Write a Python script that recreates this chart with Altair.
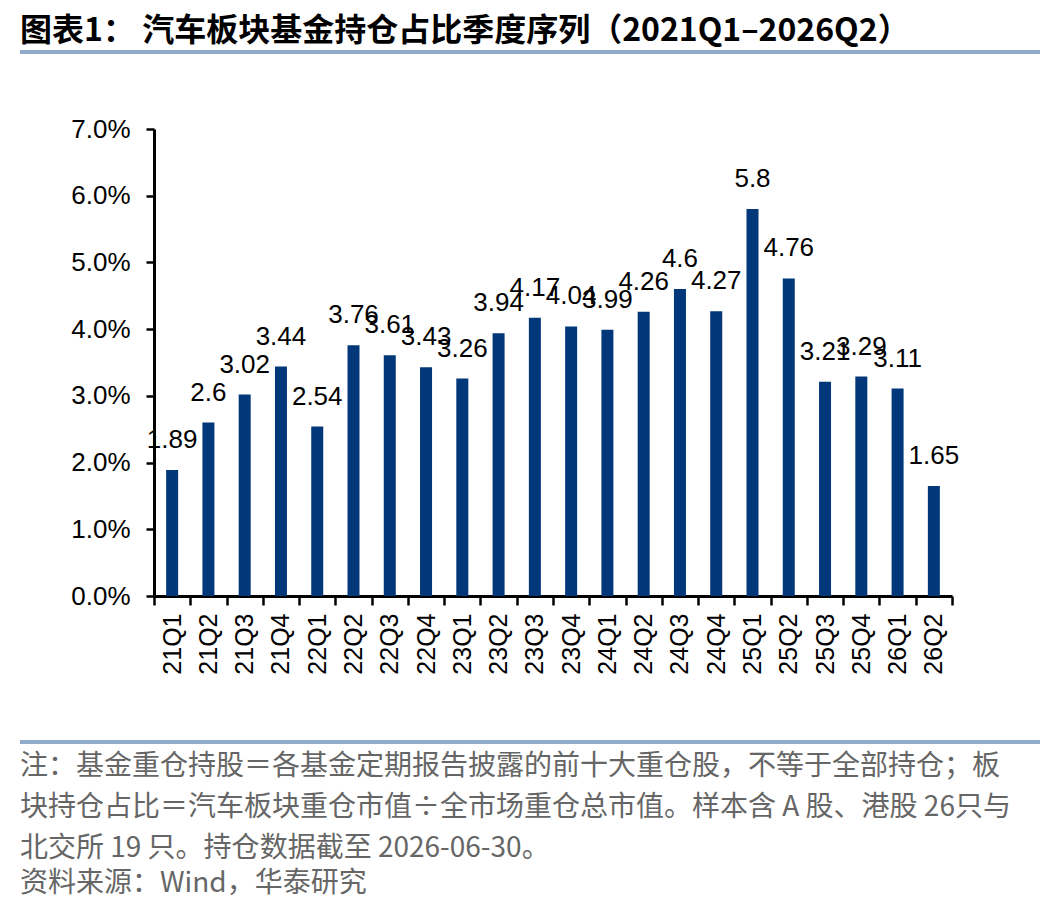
import altair as alt
import pandas as pd

# ---------------- data ----------------
quarters = ["21Q1", "21Q2", "21Q3", "21Q4", "22Q1", "22Q2", "22Q3", "22Q4",
            "23Q1", "23Q2", "23Q3", "23Q4", "24Q1", "24Q2", "24Q3", "24Q4",
            "25Q1", "25Q2", "25Q3", "25Q4", "26Q1", "26Q2"]
shares_pct = [1.89, 2.6, 3.02, 3.44, 2.54, 3.76, 3.61, 3.43,
              3.26, 3.94, 4.17, 4.04, 3.99, 4.26, 4.6, 4.27,
              5.8, 4.76, 3.21, 3.29, 3.11, 1.65]
value_labels = ["1.89", "2.6", "3.02", "3.44", "2.54", "3.76", "3.61", "3.43",
                "3.26", "3.94", "4.17", "4.04", "3.99", "4.26", "4.6", "4.27",
                "5.8", "4.76", "3.21", "3.29", "3.11", "1.65"]
y_ticks = [0.0, 0.01, 0.02, 0.03, 0.04, 0.05, 0.06, 0.07]

title_text = "图表1：  汽车板块基金持仓占比季度序列（2021Q1–2026Q2）"
note_lines = [
    "注：基金重仓持股＝各基金定期报告披露的前十大重仓股，不等于全部持仓；板",
    "块持仓占比＝汽车板块重仓市值÷全市场重仓总市值。样本含 A 股、港股 26只与",
    "北交所 19 只。持仓数据截至 2026-06-30。",
]
source_text = "资料来源：Wind，华泰研究"

df = pd.DataFrame({
    "quarter": quarters,
    "share": [v / 100 for v in shares_pct],
    "label": value_labels,
})

# ---------------- styles ----------------
BAR = "#02377A"
LATIN = "Liberation Sans"
CJK = "Noto Sans CJK SC"
RULE = "#93ABCB"
NOTE = "#666666"

W, H = 798, 467

x_enc = alt.X(
    "quarter:N", sort=quarters,
    scale=alt.Scale(paddingInner=0, paddingOuter=0),
    axis=alt.Axis(title=None, labelAngle=270, tickBand="extent",
                  labelFont=LATIN, labelFontSize=25, labelColor="#000000",
                  labelPadding=8, tickSize=9, tickWidth=2.5, tickColor="#000000",
                  domainColor="#000000", domainWidth=3),
)
y_enc = alt.Y(
    "share:Q",
    scale=alt.Scale(domain=[0, 0.07], nice=False),
    axis=alt.Axis(title=None, values=y_ticks, format=".1%", grid=False,
                  labelFont=LATIN, labelFontSize=26, labelColor="#000000",
                  labelPadding=16, tickSize=8, tickWidth=2.5, tickColor="#000000",
                  domainColor="#000000", domainWidth=3),
)

base = alt.Chart(df)
labels = base.mark_text(dy=-30, baseline="middle", align="center",
                        font=LATIN, fontSize=26, color="#000000").encode(
    x=alt.X("quarter:N", sort=quarters), y="share:Q", text="label:N")
bars = base.mark_bar(size=12, color=BAR).encode(x=x_enc, y=y_enc)

def text_layer(txt, px, py, **kw):
    return alt.Chart(pd.DataFrame({"t": [txt]})).mark_text(
        align="left", baseline="middle", **kw
    ).encode(x=alt.value(px - 154), y=alt.value(py - 129), text="t:N")

title = text_layer(title_text, 20, 31, font=CJK, fontSize=32,
                   fontWeight="bold", color="#000000")
notes = [text_layer(t, 20, yy, font=CJK, fontSize=28, color=NOTE)
         for t, yy in zip(note_lines, [767, 808, 849])]
source = text_layer(source_text, 20, 884, font=CJK, fontSize=28, color=NOTE)

def hrule(py):
    return alt.Chart(pd.DataFrame({"a": [0]})).mark_rule(
        color=RULE, strokeWidth=4
    ).encode(x=alt.value(20 - 154), x2=alt.value(1040 - 154), y=alt.value(py - 129))

chart = alt.layer(
    labels, bars, title, *notes, source, hrule(52), hrule(742)
).properties(
    width=W, height=H,
    padding={"left": 146, "top": 121, "right": 88, "bottom": 306},
    autosize=alt.AutoSizeParams(type="none"),
    background="white",
).configure_view(stroke=None)

chart.save("out.html", embed_options={"renderer": "svg", "actions": False})
